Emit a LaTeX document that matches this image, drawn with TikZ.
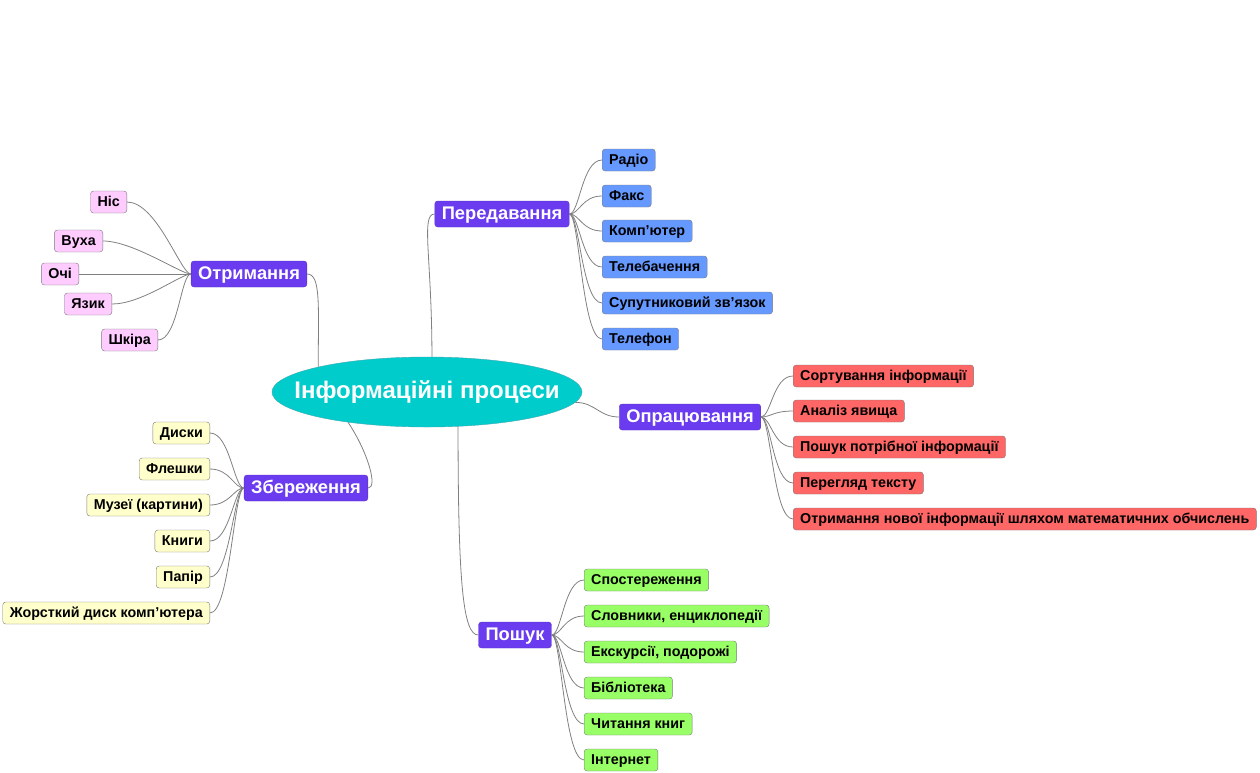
\documentclass[tikz,border=0pt]{standalone}
\usepackage{fontspec}
\setmainfont{Liberation Sans}
\usetikzlibrary{positioning,shapes.geometric}
\definecolor{HubTeal}{HTML}{00CCCC}
\definecolor{HubEdge}{HTML}{3FA8B0}
\definecolor{BranchViolet}{HTML}{6A3BEF}
\definecolor{BranchEdge}{HTML}{5A35C0}
\definecolor{LeafPink}{HTML}{FFCCFF}
\definecolor{LeafBlue}{HTML}{6699FF}
\definecolor{LeafRed}{HTML}{FF6666}
\definecolor{LeafYellow}{HTML}{FFFFCC}
\definecolor{LeafGreen}{HTML}{99FF66}
\definecolor{LeafEdge}{HTML}{7A7A7A}
\definecolor{LinkGrey}{HTML}{808080}

\begin{document}
\begin{tikzpicture}[
				x=1pt, y=-1pt,
				hubnode/.style={
					ellipse,
					draw=HubEdge,
					fill=HubTeal,
					minimum width=310pt,
					minimum height=70pt,
					inner sep=0pt,
					text=white,
					font=\fontsize{24}{28}\selectfont\bfseries
				},
				branchbox/.style={
					draw=BranchEdge,
					fill=BranchViolet,
					rounded corners=3pt,
					minimum height=26pt,
					inner xsep=7pt,
					inner ysep=0pt,
					text height=13pt,
					text depth=1.5pt,
					text=white,
					font=\fontsize{18.3}{21}\selectfont\bfseries
				},
				leafbox/.style={
					draw=LeafEdge,
					rounded corners=3pt,
					minimum height=22pt,
					inner xsep=7pt,
					inner ysep=0pt,
					text height=10pt,
					text depth=1pt,
					font=\fontsize{14.3}{17}\selectfont\bfseries
				},
				link/.style={
					draw=LinkGrey,
					line width=0.8pt
				}
				]
				
				\useasboundingbox (0,0) rectangle (1260,772);
				
				% hub and branches
				\node[hubnode] (hub) at (427,392) {\makebox[0pt]{Інформаційні процеси}};
				
				\node[branchbox] (otr) at (249,274) {Отримання};
				\node[branchbox] (per) at (502,214) {Передавання};
				\node[branchbox] (opr) at (690,417) {Опрацювання};
				\node[branchbox] (zbe) at (306,488) {Збереження};
				\node[branchbox] (posh) at (515,635) {Пошук};
				
				\draw[link] (hub.167) .. controls +(0,-60) and +(14,0) .. (otr.east);
				\draw[link] (hub.82) .. controls +(0,-100) and +(-14,0) .. (per.west);
				\draw[link] (hub.-4) .. controls +(20,0) and +(-20,0) .. (opr.west);
				\draw[link] (hub.201) .. controls +(20,30) and +(10,0) .. (zbe.east);
				\draw[link] (hub.-48) .. controls +(0,160) and +(-15,0) .. (posh.west);
				
				% receiving
				\node[leafbox, fill=LeafPink, anchor=east] (nis) at (127,202) {Ніс};
				\node[leafbox, fill=LeafPink, anchor=east] (vukha) at (103,241) {Вуха};
				\node[leafbox, fill=LeafPink, anchor=east] (ochi) at (79,274) {Очі};
				\node[leafbox, fill=LeafPink, anchor=east] (yazyk) at (112,304) {Язик};
				\node[leafbox, fill=LeafPink, anchor=east] (shkira) at (158,340) {Шкіра};
				
				\draw[link] (otr.west) .. controls +(-10,0) and +(30,0) .. (nis.east);
				\draw[link] (otr.west) .. controls +(-10,0) and +(30,0) .. (vukha.east);
				\draw[link] (otr.west) -- (ochi.east);
				\draw[link] (otr.west) .. controls +(-10,0) and +(30,0) .. (yazyk.east);
				\draw[link] (otr.west) .. controls +(-10,0) and +(20,0) .. (shkira.east);
				
				% transmitting
				\node[leafbox, fill=LeafBlue, anchor=west] (radio) at (602,160) {Радіо};
				\node[leafbox, fill=LeafBlue, anchor=west] (faks) at (602,196) {Факс};
				\node[leafbox, fill=LeafBlue, anchor=west] (komp) at (602,231) {Комп’ютер};
				\node[leafbox, fill=LeafBlue, anchor=west] (tb) at (602,267) {Телебачення};
				\node[leafbox, fill=LeafBlue, anchor=west] (sput) at (602,303) {Супутниковий зв’язок};
				\node[leafbox, fill=LeafBlue, anchor=west] (tel) at (602,339) {Телефон};
				
				\draw[link] (per.east) .. controls +(10,0) and +(-20,0) .. (radio.west);
				\draw[link] (per.east) .. controls +(10,0) and +(-20,0) .. (faks.west);
				\draw[link] (per.east) .. controls +(10,0) and +(-20,0) .. (komp.west);
				\draw[link] (per.east) .. controls +(10,0) and +(-20,0) .. (tb.west);
				\draw[link] (per.east) .. controls +(10,0) and +(-20,0) .. (sput.west);
				\draw[link] (per.east) .. controls +(10,0) and +(-20,0) .. (tel.west);
				
				% processing
				\node[leafbox, fill=LeafRed, anchor=west] (sort) at (793,376) {Сортування інформації};
				\node[leafbox, fill=LeafRed, anchor=west] (analiz) at (793,411) {Аналіз явища};
				\node[leafbox, fill=LeafRed, anchor=west] (poshinf) at (793,447) {Пошук потрібної інформації};
				\node[leafbox, fill=LeafRed, anchor=west] (perehl) at (793,483) {Перегляд тексту};
				\node[leafbox, fill=LeafRed, anchor=west] (obch) at (793,519) {Отримання нової інформації шляхом математичних обчислень};
				
				\draw[link] (opr.east) .. controls +(10,0) and +(-20,0) .. (sort.west);
				\draw[link] (opr.east) .. controls +(10,0) and +(-20,0) .. (analiz.west);
				\draw[link] (opr.east) .. controls +(10,0) and +(-20,0) .. (poshinf.west);
				\draw[link] (opr.east) .. controls +(10,0) and +(-20,0) .. (perehl.west);
				\draw[link] (opr.east) .. controls +(10,0) and +(-20,0) .. (obch.west);
				
				% storing
				\node[leafbox, fill=LeafYellow, anchor=east] (dysky) at (210,433) {Диски};
				\node[leafbox, fill=LeafYellow, anchor=east] (fleshky) at (210,469) {Флешки};
				\node[leafbox, fill=LeafYellow, anchor=east] (muzei) at (210,505) {Музеї (картини)};
				\node[leafbox, fill=LeafYellow, anchor=east] (knyhy) at (210,541) {Книги};
				\node[leafbox, fill=LeafYellow, anchor=east] (papir) at (210,577) {Папір};
				\node[leafbox, fill=LeafYellow, anchor=east] (zhorst) at (210,613) {Жорсткий диск комп’ютера};
				
				\draw[link] (zbe.west) .. controls +(-10,0) and +(20,0) .. (dysky.east);
				\draw[link] (zbe.west) .. controls +(-10,0) and +(20,0) .. (fleshky.east);
				\draw[link] (zbe.west) .. controls +(-10,0) and +(20,0) .. (muzei.east);
				\draw[link] (zbe.west) .. controls +(-10,0) and +(20,0) .. (knyhy.east);
				\draw[link] (zbe.west) .. controls +(-10,0) and +(20,0) .. (papir.east);
				\draw[link] (zbe.west) .. controls +(-10,0) and +(20,0) .. (zhorst.east);
				
				% searching
				\node[leafbox, fill=LeafGreen, anchor=west] (spost) at (584,580) {Спостереження};
				\node[leafbox, fill=LeafGreen, anchor=west] (slov) at (584,616) {Словники, енциклопедії};
				\node[leafbox, fill=LeafGreen, anchor=west] (eksk) at (584,652) {Екскурсії, подорожі};
				\node[leafbox, fill=LeafGreen, anchor=west] (bibl) at (584,688) {Бібліотека};
				\node[leafbox, fill=LeafGreen, anchor=west] (chyt) at (584,724) {Читання книг};
				\node[leafbox, fill=LeafGreen, anchor=west] (inet) at (584,760) {Інтернет};
				
				\draw[link] (posh.east) .. controls +(10,0) and +(-20,0) .. (spost.west);
				\draw[link] (posh.east) .. controls +(10,0) and +(-20,0) .. (slov.west);
				\draw[link] (posh.east) .. controls +(10,0) and +(-20,0) .. (eksk.west);
				\draw[link] (posh.east) .. controls +(10,0) and +(-20,0) .. (bibl.west);
				\draw[link] (posh.east) .. controls +(10,0) and +(-20,0) .. (chyt.west);
				\draw[link] (posh.east) .. controls +(10,0) and +(-20,0) .. (inet.west);
				
			\end{tikzpicture}
\end{document}
